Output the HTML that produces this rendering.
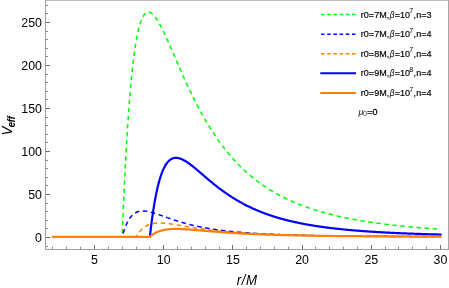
<!DOCTYPE html>
<html><head><meta charset="utf-8"><title>plot</title>
<style>
html,body{margin:0;padding:0;background:#fff;}
body{width:449px;height:288px;overflow:hidden;}
svg{display:block;font-family:"Liberation Sans",sans-serif;will-change:transform;}
</style></head><body>
<svg width="449" height="288" viewBox="0 0 449 288">
<rect width="449" height="288" fill="#fff"/>
<g fill="none">
<path d="M90.30,236.85 L122.18,236.85 L122.71,223.33 L123.24,210.48 L123.77,198.27 L124.31,186.67 L124.84,175.65 L125.37,165.19 L125.90,155.26 L126.43,145.84 L126.96,136.91 L127.49,128.44 L128.03,120.42 L128.56,112.83 L129.09,105.64 L129.62,98.85 L130.15,92.43 L130.68,86.36 L131.21,80.64 L131.75,75.24 L132.28,70.16 L132.81,65.37 L133.34,60.87 L133.87,56.64 L134.40,52.68 L134.93,48.96 L135.47,45.48 L136.00,42.23 L136.53,39.20 L137.06,36.38 L137.59,33.76 L138.12,31.33 L138.65,29.08 L139.19,27.01 L139.72,25.10 L140.25,23.35 L140.78,21.75 L141.31,20.30 L141.84,18.99 L142.37,17.81 L142.91,16.76 L143.44,15.83 L143.97,15.02 L144.50,14.31 L145.03,13.71 L145.56,13.22 L146.09,12.81 L146.63,12.50 L147.16,12.28 L147.69,12.14 L148.22,12.07 L148.75,12.09 L149.28,12.17 L149.81,12.33 L150.35,12.55 L150.88,12.83 L151.41,13.17 L151.94,13.57 L152.47,14.02 L153.00,14.52 L153.53,15.07 L154.07,15.66 L154.60,16.30 L155.13,16.98 L155.66,17.69 L156.19,18.45 L156.72,19.24 L157.25,20.06 L157.79,20.91 L158.32,21.80 L158.85,22.71 L159.38,23.64 L159.91,24.61 L160.44,25.59 L160.97,26.60 L161.51,27.62 L162.04,28.67 L162.57,29.73 L163.10,30.81 L163.63,31.91 L164.16,33.02 L164.69,34.14 L165.22,35.28 L165.76,36.43 L166.29,37.58 L166.82,38.75 L167.35,39.93 L167.88,41.11 L168.41,42.30 L168.94,43.50 L169.48,44.70 L170.01,45.91 L170.54,47.12 L171.07,48.34 L171.60,49.56 L172.13,50.78 L172.66,52.01 L173.20,53.23 L173.73,54.46 L174.26,55.69 L174.79,56.92 L175.32,58.15 L175.85,59.38 L176.38,60.60 L176.92,61.83 L177.45,63.05 L177.98,64.27 L178.51,65.49 L179.04,66.71 L179.57,67.92 L180.10,69.13 L180.64,70.34 L181.17,71.54 L181.70,72.74 L182.23,73.94 L182.76,75.13 L183.29,76.32 L183.82,77.50 L184.36,78.67 L184.89,79.84 L185.42,81.01 L185.95,82.17 L186.48,83.33 L187.01,84.48 L187.54,85.62 L188.08,86.76 L188.61,87.89 L189.14,89.01 L189.67,90.13 L190.20,91.25 L190.73,92.35 L191.26,93.45 L191.80,94.55 L192.33,95.63 L192.86,96.71 L193.39,97.79 L193.92,98.85 L194.45,99.91 L194.98,100.96 L195.52,102.01 L196.05,103.05 L196.58,104.08 L197.11,105.11 L197.64,106.12 L198.17,107.13 L198.70,108.14 L199.24,109.13 L199.77,110.12 L200.30,111.11 L200.83,112.08 L201.36,113.05 L201.89,114.01 L202.42,114.96 L202.96,115.91 L203.49,116.85 L204.02,117.78 L204.55,118.71 L205.08,119.63 L205.61,120.54 L206.14,121.44 L206.68,122.34 L207.21,123.23 L207.74,124.12 L208.27,124.99 L208.80,125.86 L209.33,126.73 L209.86,127.58 L210.40,128.43 L210.93,129.27 L211.46,130.11 L211.99,130.94 L212.52,131.76 L213.05,132.58 L213.58,133.39 L214.12,134.19 L214.65,134.99 L215.18,135.78 L215.71,136.56 L216.24,137.34 L216.77,138.11 L217.30,138.87 L217.84,139.63 L218.37,140.38 L218.90,141.12 L219.43,141.86 L219.96,142.60 L220.49,143.32 L221.02,144.04 L221.56,144.76 L222.09,145.47 L222.62,146.17 L223.15,146.87 L223.68,147.56 L224.21,148.24 L224.74,148.92 L225.28,149.60 L225.81,150.26 L226.34,150.93 L226.87,151.58 L227.40,152.23 L227.93,152.88 L228.46,153.52 L229.00,154.15 L229.53,154.78 L230.06,155.41 L230.59,156.03 L231.12,156.64 L231.65,157.25 L232.18,157.85 L232.72,158.45 L233.25,159.04 L233.78,159.63 L234.31,160.21 L234.84,160.79 L235.37,161.36 L235.90,161.93 L236.44,162.49 L236.97,163.05 L237.50,163.60 L238.03,164.15 L238.56,164.70 L239.09,165.23 L239.62,165.77 L240.16,166.30 L240.69,166.82 L241.22,167.35 L241.75,167.86 L242.28,168.37 L242.81,168.88 L243.34,169.39 L243.87,169.88 L244.41,170.38 L244.94,170.87 L245.47,171.36 L246.00,171.84 L246.53,172.32 L247.06,172.79 L247.59,173.26 L248.13,173.73 L248.66,174.19 L249.19,174.65 L249.72,175.10 L250.25,175.55 L250.78,176.00 L251.31,176.44 L251.85,176.88 L252.38,177.32 L252.91,177.75 L253.44,178.18 L253.97,178.60 L254.50,179.02 L255.03,179.44 L255.57,179.85 L256.10,180.26 L256.63,180.67 L257.16,181.07 L257.69,181.47 L258.22,181.87 L258.75,182.26 L259.29,182.65 L259.82,183.04 L260.35,183.42 L260.88,183.80 L261.41,184.18 L261.94,184.55 L262.47,184.92 L263.01,185.29 L263.54,185.66 L264.07,186.02 L264.60,186.38 L265.13,186.73 L265.66,187.08 L266.19,187.43 L266.73,187.78 L267.26,188.12 L267.79,188.46 L268.32,188.80 L268.85,189.14 L269.38,189.47 L269.91,189.80 L270.45,190.13 L270.98,190.45 L271.51,190.77 L272.04,191.09 L272.57,191.41 L273.10,191.72 L273.63,192.03 L274.17,192.34 L274.70,192.65 L275.23,192.95 L275.76,193.25 L276.29,193.55 L276.82,193.84 L277.35,194.14 L277.89,194.43 L278.42,194.72 L278.95,195.01 L279.48,195.29 L280.01,195.57 L280.54,195.85 L281.07,196.13 L281.61,196.40 L282.14,196.68 L282.67,196.95 L283.20,197.22 L283.73,197.48 L284.26,197.75 L284.79,198.01 L285.33,198.27 L285.86,198.53 L286.39,198.78 L286.92,199.03 L287.45,199.29 L287.98,199.54 L288.51,199.78 L289.05,200.03 L289.58,200.27 L290.11,200.51 L290.64,200.75 L291.17,200.99 L291.70,201.23 L292.23,201.46 L292.77,201.69 L293.30,201.93 L293.83,202.15 L294.36,202.38 L294.89,202.61 L295.42,202.83 L295.95,203.05 L296.49,203.27 L297.02,203.49 L297.55,203.70 L298.08,203.92 L298.61,204.13 L299.14,204.34 L299.67,204.55 L300.21,204.76 L300.74,204.97 L301.27,205.17 L301.80,205.38 L302.33,205.58 L302.86,205.78 L303.39,205.98 L303.93,206.17 L304.46,206.37 L304.99,206.56 L305.52,206.75 L306.05,206.94 L306.58,207.13 L307.11,207.32 L307.65,207.51 L308.18,207.69 L308.71,207.88 L309.24,208.06 L309.77,208.24 L310.30,208.42 L310.83,208.60 L311.37,208.78 L311.90,208.95 L312.43,209.12 L312.96,209.30 L313.49,209.47 L314.02,209.64 L314.55,209.81 L315.09,209.98 L315.62,210.14 L316.15,210.31 L316.68,210.47 L317.21,210.63 L317.74,210.80 L318.27,210.96 L318.81,211.11 L319.34,211.27 L319.87,211.43 L320.40,211.58 L320.93,211.74 L321.46,211.89 L321.99,212.04 L322.52,212.19 L323.06,212.34 L323.59,212.49 L324.12,212.64 L324.65,212.79 L325.18,212.93 L325.71,213.08 L326.24,213.22 L326.78,213.36 L327.31,213.50 L327.84,213.64 L328.37,213.78 L328.90,213.92 L329.43,214.06 L329.96,214.19 L330.50,214.33 L331.03,214.46 L331.56,214.60 L332.09,214.73 L332.62,214.86 L333.15,214.99 L333.68,215.12 L334.22,215.25 L334.75,215.37 L335.28,215.50 L335.81,215.63 L336.34,215.75 L336.87,215.88 L337.40,216.00 L337.94,216.12 L338.47,216.24 L339.00,216.36 L339.53,216.48 L340.06,216.60 L340.59,216.72 L341.12,216.83 L341.66,216.95 L342.19,217.07 L342.72,217.18 L343.25,217.29 L343.78,217.41 L344.31,217.52 L344.84,217.63 L345.38,217.74 L345.91,217.85 L346.44,217.96 L346.97,218.07 L347.50,218.17 L348.03,218.28 L348.56,218.39 L349.10,218.49 L349.63,218.60 L350.16,218.70 L350.69,218.80 L351.22,218.90 L351.75,219.01 L352.28,219.11 L352.82,219.21 L353.35,219.31 L353.88,219.41 L354.41,219.50 L354.94,219.60 L355.47,219.70 L356.00,219.79 L356.54,219.89 L357.07,219.98 L357.60,220.08 L358.13,220.17 L358.66,220.26 L359.19,220.36 L359.72,220.45 L360.26,220.54 L360.79,220.63 L361.32,220.72 L361.85,220.81 L362.38,220.90 L362.91,220.98 L363.44,221.07 L363.98,221.16 L364.51,221.24 L365.04,221.33 L365.57,221.41 L366.10,221.50 L366.63,221.58 L367.16,221.67 L367.70,221.75 L368.23,221.83 L368.76,221.91 L369.29,221.99 L369.82,222.07 L370.35,222.15 L370.88,222.23 L371.42,222.31 L371.95,222.39 L372.48,222.47 L373.01,222.54 L373.54,222.62 L374.07,222.70 L374.60,222.77 L375.14,222.85 L375.67,222.92 L376.20,223.00 L376.73,223.07 L377.26,223.15 L377.79,223.22 L378.32,223.29 L378.86,223.36 L379.39,223.43 L379.92,223.50 L380.45,223.58 L380.98,223.65 L381.51,223.71 L382.04,223.78 L382.58,223.85 L383.11,223.92 L383.64,223.99 L384.17,224.06 L384.70,224.12 L385.23,224.19 L385.76,224.26 L386.30,224.32 L386.83,224.39 L387.36,224.45 L387.89,224.52 L388.42,224.58 L388.95,224.64 L389.48,224.71 L390.02,224.77 L390.55,224.83 L391.08,224.89 L391.61,224.96 L392.14,225.02 L392.67,225.08 L393.20,225.14 L393.74,225.20 L394.27,225.26 L394.80,225.32 L395.33,225.38 L395.86,225.43 L396.39,225.49 L396.92,225.55 L397.46,225.61 L397.99,225.66 L398.52,225.72 L399.05,225.78 L399.58,225.83 L400.11,225.89 L400.64,225.94 L401.17,226.00 L401.71,226.05 L402.24,226.11 L402.77,226.16 L403.30,226.22 L403.83,226.27 L404.36,226.32 L404.89,226.37 L405.43,226.43 L405.96,226.48 L406.49,226.53 L407.02,226.58 L407.55,226.63 L408.08,226.68 L408.61,226.73 L409.15,226.78 L409.68,226.83 L410.21,226.88 L410.74,226.93 L411.27,226.98 L411.80,227.03 L412.33,227.08 L412.87,227.13 L413.40,227.17 L413.93,227.22 L414.46,227.27 L414.99,227.31 L415.52,227.36 L416.05,227.41 L416.59,227.45 L417.12,227.50 L417.65,227.54 L418.18,227.59 L418.71,227.63 L419.24,227.68 L419.77,227.72 L420.31,227.77 L420.84,227.81 L421.37,227.86 L421.90,227.90 L422.43,227.94 L422.96,227.98 L423.49,228.03 L424.03,228.07 L424.56,228.11 L425.09,228.15 L425.62,228.19 L426.15,228.24 L426.68,228.28 L427.21,228.32 L427.75,228.36 L428.28,228.40 L428.81,228.44 L429.34,228.48 L429.87,228.52 L430.40,228.56 L430.93,228.60 L431.47,228.64 L432.00,228.67 L432.53,228.71 L433.06,228.75 L433.59,228.79 L434.12,228.83 L434.65,228.86 L435.19,228.90 L435.72,228.94 L436.25,228.98 L436.78,229.01 L437.31,229.05 L437.84,229.09 L438.37,229.12 L438.91,229.16 L439.44,229.19 L439.97,229.23 L440.50,229.26" fill="none" stroke="#00ff00" stroke-width="1.5" stroke-dasharray="4.5 3.58" stroke-dashoffset="5.00" stroke-linejoin="round"/>
<path d="M90.30,236.85 L122.18,236.85 L122.71,234.93 L123.24,233.12 L123.77,231.43 L124.31,229.84 L124.84,228.34 L125.37,226.94 L125.90,225.63 L126.43,224.40 L126.96,223.24 L127.49,222.17 L128.03,221.16 L128.56,220.23 L129.09,219.35 L129.62,218.54 L130.15,217.79 L130.68,217.09 L131.21,216.44 L131.75,215.84 L132.28,215.28 L132.81,214.77 L133.34,214.31 L133.87,213.88 L134.40,213.49 L134.93,213.13 L135.47,212.81 L136.00,212.52 L136.53,212.26 L137.06,212.02 L137.59,211.82 L138.12,211.64 L138.65,211.48 L139.19,211.35 L139.72,211.24 L140.25,211.14 L140.78,211.07 L141.31,211.02 L141.84,210.98 L142.37,210.96 L142.91,210.95 L143.44,210.96 L143.97,210.98 L144.50,211.01 L145.03,211.06 L145.56,211.11 L146.09,211.18 L146.63,211.26 L147.16,211.34 L147.69,211.44 L148.22,211.54 L148.75,211.65 L149.28,211.77 L149.81,211.89 L150.35,212.02 L150.88,212.16 L151.41,212.30 L151.94,212.45 L152.47,212.60 L153.00,212.75 L153.53,212.91 L154.07,213.08 L154.60,213.24 L155.13,213.41 L155.66,213.58 L156.19,213.76 L156.72,213.93 L157.25,214.11 L157.79,214.29 L158.32,214.47 L158.85,214.66 L159.38,214.84 L159.91,215.03 L160.44,215.21 L160.97,215.40 L161.51,215.59 L162.04,215.78 L162.57,215.97 L163.10,216.16 L163.63,216.35 L164.16,216.53 L164.69,216.72 L165.22,216.91 L165.76,217.10 L166.29,217.29 L166.82,217.48 L167.35,217.66 L167.88,217.85 L168.41,218.04 L168.94,218.22 L169.48,218.41 L170.01,218.59 L170.54,218.77 L171.07,218.95 L171.60,219.13 L172.13,219.31 L172.66,219.49 L173.20,219.67 L173.73,219.84 L174.26,220.02 L174.79,220.19 L175.32,220.36 L175.85,220.54 L176.38,220.70 L176.92,220.87 L177.45,221.04 L177.98,221.21 L178.51,221.37 L179.04,221.53 L179.57,221.70 L180.10,221.86 L180.64,222.01 L181.17,222.17 L181.70,222.33 L182.23,222.48 L182.76,222.64 L183.29,222.79 L183.82,222.94 L184.36,223.09 L184.89,223.23 L185.42,223.38 L185.95,223.52 L186.48,223.67 L187.01,223.81 L187.54,223.95 L188.08,224.09 L188.61,224.23 L189.14,224.36 L189.67,224.50 L190.20,224.63 L190.73,224.76 L191.26,224.89 L191.80,225.02 L192.33,225.15 L192.86,225.27 L193.39,225.40 L193.92,225.52 L194.45,225.65 L194.98,225.77 L195.52,225.89 L196.05,226.00 L196.58,226.12 L197.11,226.24 L197.64,226.35 L198.17,226.47 L198.70,226.58 L199.24,226.69 L199.77,226.80 L200.30,226.91 L200.83,227.01 L201.36,227.12 L201.89,227.22 L202.42,227.33 L202.96,227.43 L203.49,227.53 L204.02,227.63 L204.55,227.73 L205.08,227.83 L205.61,227.92 L206.14,228.02 L206.68,228.11 L207.21,228.21 L207.74,228.30 L208.27,228.39 L208.80,228.48 L209.33,228.57 L209.86,228.66 L210.40,228.74 L210.93,228.83 L211.46,228.91 L211.99,229.00 L212.52,229.08 L213.05,229.16 L213.58,229.24 L214.12,229.33 L214.65,229.40 L215.18,229.48 L215.71,229.56 L216.24,229.64 L216.77,229.71 L217.30,229.79 L217.84,229.86 L218.37,229.93 L218.90,230.01 L219.43,230.08 L219.96,230.15 L220.49,230.22 L221.02,230.29 L221.56,230.36 L222.09,230.42 L222.62,230.49 L223.15,230.56 L223.68,230.62 L224.21,230.68 L224.74,230.75 L225.28,230.81 L225.81,230.87 L226.34,230.93 L226.87,231.00 L227.40,231.06 L227.93,231.11 L228.46,231.17 L229.00,231.23 L229.53,231.29 L230.06,231.35 L230.59,231.40 L231.12,231.46 L231.65,231.51 L232.18,231.57 L232.72,231.62 L233.25,231.67 L233.78,231.72 L234.31,231.78 L234.84,231.83 L235.37,231.88 L235.90,231.93 L236.44,231.98 L236.97,232.02 L237.50,232.07 L238.03,232.12 L238.56,232.17 L239.09,232.21 L239.62,232.26 L240.16,232.31 L240.69,232.35 L241.22,232.39 L241.75,232.44 L242.28,232.48 L242.81,232.53 L243.34,232.57 L243.87,232.61 L244.41,232.65 L244.94,232.69 L245.47,232.73 L246.00,232.77 L246.53,232.81 L247.06,232.85 L247.59,232.89 L248.13,232.93 L248.66,232.97 L249.19,233.00 L249.72,233.04 L250.25,233.08 L250.78,233.12 L251.31,233.15 L251.85,233.19 L252.38,233.22 L252.91,233.26 L253.44,233.29 L253.97,233.32 L254.50,233.36 L255.03,233.39 L255.57,233.42 L256.10,233.46 L256.63,233.49 L257.16,233.52 L257.69,233.55 L258.22,233.58 L258.75,233.61 L259.29,233.64 L259.82,233.67 L260.35,233.70 L260.88,233.73 L261.41,233.76 L261.94,233.79 L262.47,233.82 L263.01,233.85 L263.54,233.88 L264.07,233.90 L264.60,233.93 L265.13,233.96 L265.66,233.98 L266.19,234.01 L266.73,234.04 L267.26,234.06 L267.79,234.09 L268.32,234.11 L268.85,234.14 L269.38,234.16 L269.91,234.19 L270.45,234.21 L270.98,234.24 L271.51,234.26 L272.04,234.28 L272.57,234.31 L273.10,234.33 L273.63,234.35 L274.17,234.37 L274.70,234.40 L275.23,234.42 L275.76,234.44 L276.29,234.46 L276.82,234.48 L277.35,234.50 L277.89,234.53 L278.42,234.55 L278.95,234.57 L279.48,234.59 L280.01,234.61 L280.54,234.63 L281.07,234.65 L281.61,234.67 L282.14,234.69 L282.67,234.70 L283.20,234.72 L283.73,234.74 L284.26,234.76 L284.79,234.78 L285.33,234.80 L285.86,234.81 L286.39,234.83 L286.92,234.85 L287.45,234.87 L287.98,234.88 L288.51,234.90 L289.05,234.92 L289.58,234.93 L290.11,234.95 L290.64,234.97 L291.17,234.98 L291.70,235.00 L292.23,235.02 L292.77,235.03 L293.30,235.05 L293.83,235.06 L294.36,235.08 L294.89,235.09 L295.42,235.11 L295.95,235.12 L296.49,235.14 L297.02,235.15 L297.55,235.17 L298.08,235.18 L298.61,235.19 L299.14,235.21 L299.67,235.22 L300.21,235.23 L300.74,235.25 L301.27,235.26 L301.80,235.27 L302.33,235.29 L302.86,235.30 L303.39,235.31 L303.93,235.33 L304.46,235.34 L304.99,235.35 L305.52,235.36 L306.05,235.38 L306.58,235.39 L307.11,235.40 L307.65,235.41 L308.18,235.42 L308.71,235.44 L309.24,235.45 L309.77,235.46 L310.30,235.47 L310.83,235.48 L311.37,235.49 L311.90,235.50 L312.43,235.51 L312.96,235.52 L313.49,235.54 L314.02,235.55 L314.55,235.56 L315.09,235.57 L315.62,235.58 L316.15,235.59 L316.68,235.60 L317.21,235.61 L317.74,235.62 L318.27,235.63 L318.81,235.64 L319.34,235.65 L319.87,235.66 L320.40,235.67 L320.93,235.67 L321.46,235.68 L321.99,235.69 L322.52,235.70 L323.06,235.71 L323.59,235.72 L324.12,235.73 L324.65,235.74 L325.18,235.75 L325.71,235.75 L326.24,235.76 L326.78,235.77 L327.31,235.78 L327.84,235.79 L328.37,235.80 L328.90,235.80 L329.43,235.81 L329.96,235.82 L330.50,235.83 L331.03,235.84 L331.56,235.84 L332.09,235.85 L332.62,235.86 L333.15,235.87 L333.68,235.87 L334.22,235.88 L334.75,235.89 L335.28,235.90 L335.81,235.90 L336.34,235.91 L336.87,235.92 L337.40,235.93 L337.94,235.93 L338.47,235.94 L339.00,235.95 L339.53,235.95 L340.06,235.96 L340.59,235.97 L341.12,235.97 L341.66,235.98 L342.19,235.99 L342.72,235.99 L343.25,236.00 L343.78,236.01 L344.31,236.01 L344.84,236.02 L345.38,236.02 L345.91,236.03 L346.44,236.04 L346.97,236.04 L347.50,236.05 L348.03,236.05 L348.56,236.06 L349.10,236.07 L349.63,236.07 L350.16,236.08 L350.69,236.08 L351.22,236.09 L351.75,236.09 L352.28,236.10 L352.82,236.10 L353.35,236.11 L353.88,236.12 L354.41,236.12 L354.94,236.13 L355.47,236.13 L356.00,236.14 L356.54,236.14 L357.07,236.15 L357.60,236.15 L358.13,236.16 L358.66,236.16 L359.19,236.17 L359.72,236.17 L360.26,236.18 L360.79,236.18 L361.32,236.19 L361.85,236.19 L362.38,236.19 L362.91,236.20 L363.44,236.20 L363.98,236.21 L364.51,236.21 L365.04,236.22 L365.57,236.22 L366.10,236.23 L366.63,236.23 L367.16,236.24 L367.70,236.24 L368.23,236.24 L368.76,236.25 L369.29,236.25 L369.82,236.26 L370.35,236.26 L370.88,236.26 L371.42,236.27 L371.95,236.27 L372.48,236.28 L373.01,236.28 L373.54,236.28 L374.07,236.29 L374.60,236.29 L375.14,236.30 L375.67,236.30 L376.20,236.30 L376.73,236.31 L377.26,236.31 L377.79,236.31 L378.32,236.32 L378.86,236.32 L379.39,236.33 L379.92,236.33 L380.45,236.33 L380.98,236.34 L381.51,236.34 L382.04,236.34 L382.58,236.35 L383.11,236.35 L383.64,236.35 L384.17,236.36 L384.70,236.36 L385.23,236.36 L385.76,236.37 L386.30,236.37 L386.83,236.37 L387.36,236.38 L387.89,236.38 L388.42,236.38 L388.95,236.39 L389.48,236.39 L390.02,236.39 L390.55,236.39 L391.08,236.40 L391.61,236.40 L392.14,236.40 L392.67,236.41 L393.20,236.41 L393.74,236.41 L394.27,236.42 L394.80,236.42 L395.33,236.42 L395.86,236.42 L396.39,236.43 L396.92,236.43 L397.46,236.43 L397.99,236.43 L398.52,236.44 L399.05,236.44 L399.58,236.44 L400.11,236.45 L400.64,236.45 L401.17,236.45 L401.71,236.45 L402.24,236.46 L402.77,236.46 L403.30,236.46 L403.83,236.46 L404.36,236.47 L404.89,236.47 L405.43,236.47 L405.96,236.47 L406.49,236.48 L407.02,236.48 L407.55,236.48 L408.08,236.48 L408.61,236.48 L409.15,236.49 L409.68,236.49 L410.21,236.49 L410.74,236.49 L411.27,236.50 L411.80,236.50 L412.33,236.50 L412.87,236.50 L413.40,236.50 L413.93,236.51 L414.46,236.51 L414.99,236.51 L415.52,236.51 L416.05,236.52 L416.59,236.52 L417.12,236.52 L417.65,236.52 L418.18,236.52 L418.71,236.53 L419.24,236.53 L419.77,236.53 L420.31,236.53 L420.84,236.53 L421.37,236.54 L421.90,236.54 L422.43,236.54 L422.96,236.54 L423.49,236.54 L424.03,236.55 L424.56,236.55 L425.09,236.55 L425.62,236.55 L426.15,236.55 L426.68,236.55 L427.21,236.56 L427.75,236.56 L428.28,236.56 L428.81,236.56 L429.34,236.56 L429.87,236.56 L430.40,236.57 L430.93,236.57 L431.47,236.57 L432.00,236.57 L432.53,236.57 L433.06,236.58 L433.59,236.58 L434.12,236.58 L434.65,236.58 L435.19,236.58 L435.72,236.58 L436.25,236.58 L436.78,236.59 L437.31,236.59 L437.84,236.59 L438.37,236.59 L438.91,236.59 L439.44,236.59 L439.97,236.60 L440.50,236.60" fill="none" stroke="#0000ff" stroke-width="1.5" stroke-dasharray="4.5 3.58" stroke-dashoffset="5.00" stroke-linejoin="round"/>
<path d="M90.30,236.85 L136.02,236.85 L136.53,235.98 L137.04,235.15 L137.54,234.37 L138.05,233.62 L138.56,232.92 L139.07,232.25 L139.58,231.62 L140.09,231.02 L140.59,230.45 L141.10,229.92 L141.61,229.41 L142.12,228.93 L142.63,228.48 L143.14,228.06 L143.64,227.65 L144.15,227.28 L144.66,226.92 L145.17,226.59 L145.68,226.28 L146.19,225.98 L146.69,225.71 L147.20,225.45 L147.71,225.22 L148.22,224.99 L148.73,224.79 L149.24,224.59 L149.74,224.42 L150.25,224.25 L150.76,224.10 L151.27,223.96 L151.78,223.83 L152.29,223.72 L152.79,223.61 L153.30,223.52 L153.81,223.43 L154.32,223.36 L154.83,223.29 L155.34,223.23 L155.84,223.18 L156.35,223.14 L156.86,223.11 L157.37,223.08 L157.88,223.06 L158.39,223.04 L158.89,223.03 L159.40,223.03 L159.91,223.03 L160.42,223.04 L160.93,223.05 L161.44,223.07 L161.94,223.09 L162.45,223.12 L162.96,223.15 L163.47,223.18 L163.98,223.22 L164.49,223.26 L164.99,223.30 L165.50,223.35 L166.01,223.40 L166.52,223.45 L167.03,223.51 L167.54,223.56 L168.04,223.62 L168.55,223.68 L169.06,223.75 L169.57,223.81 L170.08,223.88 L170.59,223.95 L171.09,224.02 L171.60,224.09 L172.11,224.17 L172.62,224.24 L173.13,224.32 L173.64,224.40 L174.14,224.47 L174.65,224.55 L175.16,224.63 L175.67,224.71 L176.18,224.79 L176.69,224.88 L177.19,224.96 L177.70,225.04 L178.21,225.12 L178.72,225.21 L179.23,225.29 L179.73,225.38 L180.24,225.46 L180.75,225.55 L181.26,225.63 L181.77,225.72 L182.28,225.80 L182.78,225.89 L183.29,225.97 L183.80,226.06 L184.31,226.14 L184.82,226.23 L185.33,226.31 L185.83,226.40 L186.34,226.48 L186.85,226.57 L187.36,226.65 L187.87,226.73 L188.38,226.82 L188.88,226.90 L189.39,226.98 L189.90,227.07 L190.41,227.15 L190.92,227.23 L191.43,227.31 L191.93,227.39 L192.44,227.48 L192.95,227.56 L193.46,227.64 L193.97,227.72 L194.48,227.79 L194.98,227.87 L195.49,227.95 L196.00,228.03 L196.51,228.11 L197.02,228.18 L197.53,228.26 L198.03,228.34 L198.54,228.41 L199.05,228.49 L199.56,228.56 L200.07,228.63 L200.58,228.71 L201.08,228.78 L201.59,228.85 L202.10,228.92 L202.61,228.99 L203.12,229.07 L203.63,229.14 L204.13,229.20 L204.64,229.27 L205.15,229.34 L205.66,229.41 L206.17,229.48 L206.68,229.54 L207.18,229.61 L207.69,229.68 L208.20,229.74 L208.71,229.80 L209.22,229.87 L209.73,229.93 L210.23,230.00 L210.74,230.06 L211.25,230.12 L211.76,230.18 L212.27,230.24 L212.78,230.30 L213.28,230.36 L213.79,230.42 L214.30,230.48 L214.81,230.54 L215.32,230.59 L215.83,230.65 L216.33,230.71 L216.84,230.76 L217.35,230.82 L217.86,230.88 L218.37,230.93 L218.88,230.98 L219.38,231.04 L219.89,231.09 L220.40,231.14 L220.91,231.19 L221.42,231.25 L221.93,231.30 L222.43,231.35 L222.94,231.40 L223.45,231.45 L223.96,231.50 L224.47,231.55 L224.97,231.59 L225.48,231.64 L225.99,231.69 L226.50,231.74 L227.01,231.78 L227.52,231.83 L228.02,231.87 L228.53,231.92 L229.04,231.96 L229.55,232.01 L230.06,232.05 L230.57,232.09 L231.07,232.14 L231.58,232.18 L232.09,232.22 L232.60,232.26 L233.11,232.31 L233.62,232.35 L234.12,232.39 L234.63,232.43 L235.14,232.47 L235.65,232.51 L236.16,232.55 L236.67,232.58 L237.17,232.62 L237.68,232.66 L238.19,232.70 L238.70,232.73 L239.21,232.77 L239.72,232.81 L240.22,232.84 L240.73,232.88 L241.24,232.91 L241.75,232.95 L242.26,232.98 L242.77,233.02 L243.27,233.05 L243.78,233.09 L244.29,233.12 L244.80,233.15 L245.31,233.18 L245.82,233.22 L246.32,233.25 L246.83,233.28 L247.34,233.31 L247.85,233.34 L248.36,233.37 L248.87,233.40 L249.37,233.43 L249.88,233.46 L250.39,233.49 L250.90,233.52 L251.41,233.55 L251.92,233.58 L252.42,233.61 L252.93,233.64 L253.44,233.67 L253.95,233.69 L254.46,233.72 L254.97,233.75 L255.47,233.77 L255.98,233.80 L256.49,233.83 L257.00,233.85 L257.51,233.88 L258.02,233.91 L258.52,233.93 L259.03,233.96 L259.54,233.98 L260.05,234.00 L260.56,234.03 L261.07,234.05 L261.57,234.08 L262.08,234.10 L262.59,234.12 L263.10,234.15 L263.61,234.17 L264.12,234.19 L264.62,234.22 L265.13,234.24 L265.64,234.26 L266.15,234.28 L266.66,234.30 L267.16,234.32 L267.67,234.35 L268.18,234.37 L268.69,234.39 L269.20,234.41 L269.71,234.43 L270.21,234.45 L270.72,234.47 L271.23,234.49 L271.74,234.51 L272.25,234.53 L272.76,234.55 L273.26,234.57 L273.77,234.59 L274.28,234.60 L274.79,234.62 L275.30,234.64 L275.81,234.66 L276.31,234.68 L276.82,234.70 L277.33,234.71 L277.84,234.73 L278.35,234.75 L278.86,234.77 L279.36,234.78 L279.87,234.80 L280.38,234.82 L280.89,234.83 L281.40,234.85 L281.91,234.87 L282.41,234.88 L282.92,234.90 L283.43,234.91 L283.94,234.93 L284.45,234.94 L284.96,234.96 L285.46,234.97 L285.97,234.99 L286.48,235.00 L286.99,235.02 L287.50,235.03 L288.01,235.05 L288.51,235.06 L289.02,235.08 L289.53,235.09 L290.04,235.11 L290.55,235.12 L291.06,235.13 L291.56,235.15 L292.07,235.16 L292.58,235.17 L293.09,235.19 L293.60,235.20 L294.11,235.21 L294.61,235.23 L295.12,235.24 L295.63,235.25 L296.14,235.26 L296.65,235.28 L297.16,235.29 L297.66,235.30 L298.17,235.31 L298.68,235.32 L299.19,235.34 L299.70,235.35 L300.21,235.36 L300.71,235.37 L301.22,235.38 L301.73,235.39 L302.24,235.41 L302.75,235.42 L303.26,235.43 L303.76,235.44 L304.27,235.45 L304.78,235.46 L305.29,235.47 L305.80,235.48 L306.31,235.49 L306.81,235.50 L307.32,235.51 L307.83,235.52 L308.34,235.53 L308.85,235.54 L309.36,235.55 L309.86,235.56 L310.37,235.57 L310.88,235.58 L311.39,235.59 L311.90,235.60 L312.40,235.61 L312.91,235.62 L313.42,235.63 L313.93,235.64 L314.44,235.65 L314.95,235.66 L315.45,235.67 L315.96,235.67 L316.47,235.68 L316.98,235.69 L317.49,235.70 L318.00,235.71 L318.50,235.72 L319.01,235.73 L319.52,235.73 L320.03,235.74 L320.54,235.75 L321.05,235.76 L321.55,235.77 L322.06,235.77 L322.57,235.78 L323.08,235.79 L323.59,235.80 L324.10,235.81 L324.60,235.81 L325.11,235.82 L325.62,235.83 L326.13,235.84 L326.64,235.84 L327.15,235.85 L327.65,235.86 L328.16,235.86 L328.67,235.87 L329.18,235.88 L329.69,235.89 L330.20,235.89 L330.70,235.90 L331.21,235.91 L331.72,235.91 L332.23,235.92 L332.74,235.93 L333.25,235.93 L333.75,235.94 L334.26,235.95 L334.77,235.95 L335.28,235.96 L335.79,235.97 L336.30,235.97 L336.80,235.98 L337.31,235.98 L337.82,235.99 L338.33,236.00 L338.84,236.00 L339.35,236.01 L339.85,236.01 L340.36,236.02 L340.87,236.03 L341.38,236.03 L341.89,236.04 L342.40,236.04 L342.90,236.05 L343.41,236.05 L343.92,236.06 L344.43,236.06 L344.94,236.07 L345.45,236.08 L345.95,236.08 L346.46,236.09 L346.97,236.09 L347.48,236.10 L347.99,236.10 L348.50,236.11 L349.00,236.11 L349.51,236.12 L350.02,236.12 L350.53,236.13 L351.04,236.13 L351.55,236.14 L352.05,236.14 L352.56,236.15 L353.07,236.15 L353.58,236.16 L354.09,236.16 L354.59,236.17 L355.10,236.17 L355.61,236.17 L356.12,236.18 L356.63,236.18 L357.14,236.19 L357.64,236.19 L358.15,236.20 L358.66,236.20 L359.17,236.21 L359.68,236.21 L360.19,236.21 L360.69,236.22 L361.20,236.22 L361.71,236.23 L362.22,236.23 L362.73,236.24 L363.24,236.24 L363.74,236.24 L364.25,236.25 L364.76,236.25 L365.27,236.26 L365.78,236.26 L366.29,236.26 L366.79,236.27 L367.30,236.27 L367.81,236.27 L368.32,236.28 L368.83,236.28 L369.34,236.29 L369.84,236.29 L370.35,236.29 L370.86,236.30 L371.37,236.30 L371.88,236.30 L372.39,236.31 L372.89,236.31 L373.40,236.31 L373.91,236.32 L374.42,236.32 L374.93,236.33 L375.44,236.33 L375.94,236.33 L376.45,236.34 L376.96,236.34 L377.47,236.34 L377.98,236.34 L378.49,236.35 L378.99,236.35 L379.50,236.35 L380.01,236.36 L380.52,236.36 L381.03,236.36 L381.54,236.37 L382.04,236.37 L382.55,236.37 L383.06,236.38 L383.57,236.38 L384.08,236.38 L384.59,236.39 L385.09,236.39 L385.60,236.39 L386.11,236.39 L386.62,236.40 L387.13,236.40 L387.64,236.40 L388.14,236.41 L388.65,236.41 L389.16,236.41 L389.67,236.41 L390.18,236.42 L390.69,236.42 L391.19,236.42 L391.70,236.42 L392.21,236.43 L392.72,236.43 L393.23,236.43 L393.74,236.43 L394.24,236.44 L394.75,236.44 L395.26,236.44 L395.77,236.44 L396.28,236.45 L396.79,236.45 L397.29,236.45 L397.80,236.45 L398.31,236.46 L398.82,236.46 L399.33,236.46 L399.83,236.46 L400.34,236.47 L400.85,236.47 L401.36,236.47 L401.87,236.47 L402.38,236.48 L402.88,236.48 L403.39,236.48 L403.90,236.48 L404.41,236.48 L404.92,236.49 L405.43,236.49 L405.93,236.49 L406.44,236.49 L406.95,236.50 L407.46,236.50 L407.97,236.50 L408.48,236.50 L408.98,236.50 L409.49,236.51 L410.00,236.51 L410.51,236.51 L411.02,236.51 L411.53,236.51 L412.03,236.52 L412.54,236.52 L413.05,236.52 L413.56,236.52 L414.07,236.52 L414.58,236.53 L415.08,236.53 L415.59,236.53 L416.10,236.53 L416.61,236.53 L417.12,236.54 L417.63,236.54 L418.13,236.54 L418.64,236.54 L419.15,236.54 L419.66,236.54 L420.17,236.55 L420.68,236.55 L421.18,236.55 L421.69,236.55 L422.20,236.55 L422.71,236.55 L423.22,236.56 L423.73,236.56 L424.23,236.56 L424.74,236.56 L425.25,236.56 L425.76,236.56 L426.27,236.57 L426.78,236.57 L427.28,236.57 L427.79,236.57 L428.30,236.57 L428.81,236.57 L429.32,236.58 L429.83,236.58 L430.33,236.58 L430.84,236.58 L431.35,236.58 L431.86,236.58 L432.37,236.59 L432.88,236.59 L433.38,236.59 L433.89,236.59 L434.40,236.59 L434.91,236.59 L435.42,236.59 L435.93,236.60 L436.43,236.60 L436.94,236.60 L437.45,236.60 L437.96,236.60 L438.47,236.60 L438.98,236.60 L439.48,236.61 L439.99,236.61 L440.50,236.61" fill="none" stroke="#ff8000" stroke-width="1.5" stroke-dasharray="4.5 3.58" stroke-dashoffset="5.00" stroke-linejoin="round"/>
<path d="M90.30,236.85 L149.86,236.85" fill="none" stroke="#0000ff" stroke-width="1.8"/>
<path d="M149.86,236.85 L150.35,232.57 L150.83,228.48 L151.32,224.57 L151.80,220.84 L152.29,217.27 L152.77,213.85 L153.26,210.60 L153.74,207.49 L154.23,204.52 L154.71,201.69 L155.20,199.00 L155.68,196.43 L156.17,193.98 L156.65,191.65 L157.14,189.43 L157.62,187.32 L158.11,185.32 L158.59,183.41 L159.08,181.60 L159.56,179.89 L160.05,178.27 L160.53,176.73 L161.02,175.27 L161.51,173.89 L161.99,172.60 L162.48,171.37 L162.96,170.21 L163.45,169.13 L163.93,168.11 L164.42,167.15 L164.90,166.25 L165.39,165.41 L165.87,164.63 L166.36,163.89 L166.84,163.22 L167.33,162.59 L167.81,162.01 L168.30,161.47 L168.78,160.98 L169.27,160.53 L169.75,160.12 L170.24,159.75 L170.72,159.42 L171.21,159.12 L171.69,158.86 L172.18,158.63 L172.66,158.43 L173.15,158.27 L173.64,158.13 L174.12,158.02 L174.61,157.94 L175.09,157.88 L175.58,157.85 L176.06,157.84 L176.55,157.85 L177.03,157.89 L177.52,157.94 L178.00,158.02 L178.49,158.12 L178.97,158.23 L179.46,158.36 L179.94,158.51 L180.43,158.67 L180.91,158.85 L181.40,159.04 L181.88,159.25 L182.37,159.47 L182.85,159.70 L183.34,159.94 L183.82,160.20 L184.31,160.46 L184.80,160.74 L185.28,161.03 L185.77,161.32 L186.25,161.62 L186.74,161.94 L187.22,162.26 L187.71,162.59 L188.19,162.92 L188.68,163.26 L189.16,163.61 L189.65,163.96 L190.13,164.32 L190.62,164.69 L191.10,165.06 L191.59,165.43 L192.07,165.81 L192.56,166.19 L193.04,166.58 L193.53,166.97 L194.01,167.36 L194.50,167.76 L194.98,168.16 L195.47,168.56 L195.95,168.96 L196.44,169.37 L196.93,169.77 L197.41,170.18 L197.90,170.59 L198.38,171.00 L198.87,171.42 L199.35,171.83 L199.84,172.25 L200.32,172.66 L200.81,173.08 L201.29,173.49 L201.78,173.91 L202.26,174.33 L202.75,174.74 L203.23,175.16 L203.72,175.57 L204.20,175.99 L204.69,176.40 L205.17,176.82 L205.66,177.23 L206.14,177.65 L206.63,178.06 L207.11,178.47 L207.60,178.88 L208.09,179.29 L208.57,179.70 L209.06,180.10 L209.54,180.51 L210.03,180.91 L210.51,181.32 L211.00,181.72 L211.48,182.12 L211.97,182.52 L212.45,182.91 L212.94,183.31 L213.42,183.70 L213.91,184.09 L214.39,184.48 L214.88,184.87 L215.36,185.25 L215.85,185.64 L216.33,186.02 L216.82,186.40 L217.30,186.78 L217.79,187.15 L218.27,187.53 L218.76,187.90 L219.24,188.27 L219.73,188.63 L220.22,189.00 L220.70,189.36 L221.19,189.72 L221.67,190.08 L222.16,190.44 L222.64,190.79 L223.13,191.14 L223.61,191.49 L224.10,191.84 L224.58,192.19 L225.07,192.53 L225.55,192.87 L226.04,193.21 L226.52,193.55 L227.01,193.88 L227.49,194.21 L227.98,194.54 L228.46,194.87 L228.95,195.19 L229.43,195.51 L229.92,195.83 L230.40,196.15 L230.89,196.47 L231.38,196.78 L231.86,197.09 L232.35,197.40 L232.83,197.71 L233.32,198.01 L233.80,198.31 L234.29,198.61 L234.77,198.91 L235.26,199.21 L235.74,199.50 L236.23,199.79 L236.71,200.08 L237.20,200.37 L237.68,200.65 L238.17,200.93 L238.65,201.21 L239.14,201.49 L239.62,201.77 L240.11,202.04 L240.59,202.31 L241.08,202.58 L241.56,202.85 L242.05,203.11 L242.53,203.38 L243.02,203.64 L243.51,203.90 L243.99,204.15 L244.48,204.41 L244.96,204.66 L245.45,204.91 L245.93,205.16 L246.42,205.41 L246.90,205.65 L247.39,205.89 L247.87,206.14 L248.36,206.37 L248.84,206.61 L249.33,206.85 L249.81,207.08 L250.30,207.31 L250.78,207.54 L251.27,207.77 L251.75,207.99 L252.24,208.22 L252.72,208.44 L253.21,208.66 L253.69,208.88 L254.18,209.09 L254.67,209.31 L255.15,209.52 L255.64,209.73 L256.12,209.94 L256.61,210.15 L257.09,210.35 L257.58,210.56 L258.06,210.76 L258.55,210.96 L259.03,211.16 L259.52,211.36 L260.00,211.55 L260.49,211.75 L260.97,211.94 L261.46,212.13 L261.94,212.32 L262.43,212.51 L262.91,212.70 L263.40,212.88 L263.88,213.06 L264.37,213.25 L264.85,213.43 L265.34,213.60 L265.82,213.78 L266.31,213.96 L266.80,214.13 L267.28,214.30 L267.77,214.48 L268.25,214.65 L268.74,214.81 L269.22,214.98 L269.71,215.15 L270.19,215.31 L270.68,215.47 L271.16,215.63 L271.65,215.79 L272.13,215.95 L272.62,216.11 L273.10,216.27 L273.59,216.42 L274.07,216.58 L274.56,216.73 L275.04,216.88 L275.53,217.03 L276.01,217.18 L276.50,217.32 L276.98,217.47 L277.47,217.62 L277.96,217.76 L278.44,217.90 L278.93,218.04 L279.41,218.18 L279.90,218.32 L280.38,218.46 L280.87,218.60 L281.35,218.73 L281.84,218.87 L282.32,219.00 L282.81,219.13 L283.29,219.26 L283.78,219.39 L284.26,219.52 L284.75,219.65 L285.23,219.77 L285.72,219.90 L286.20,220.02 L286.69,220.15 L287.17,220.27 L287.66,220.39 L288.14,220.51 L288.63,220.63 L289.11,220.75 L289.60,220.87 L290.09,220.98 L290.57,221.10 L291.06,221.21 L291.54,221.33 L292.03,221.44 L292.51,221.55 L293.00,221.66 L293.48,221.77 L293.97,221.88 L294.45,221.99 L294.94,222.10 L295.42,222.20 L295.91,222.31 L296.39,222.41 L296.88,222.52 L297.36,222.62 L297.85,222.72 L298.33,222.82 L298.82,222.92 L299.30,223.02 L299.79,223.12 L300.27,223.22 L300.76,223.32 L301.25,223.41 L301.73,223.51 L302.22,223.60 L302.70,223.70 L303.19,223.79 L303.67,223.88 L304.16,223.98 L304.64,224.07 L305.13,224.16 L305.61,224.25 L306.10,224.34 L306.58,224.42 L307.07,224.51 L307.55,224.60 L308.04,224.68 L308.52,224.77 L309.01,224.85 L309.49,224.94 L309.98,225.02 L310.46,225.10 L310.95,225.18 L311.43,225.27 L311.92,225.35 L312.40,225.43 L312.89,225.51 L313.38,225.58 L313.86,225.66 L314.35,225.74 L314.83,225.82 L315.32,225.89 L315.80,225.97 L316.29,226.04 L316.77,226.12 L317.26,226.19 L317.74,226.26 L318.23,226.34 L318.71,226.41 L319.20,226.48 L319.68,226.55 L320.17,226.62 L320.65,226.69 L321.14,226.76 L321.62,226.83 L322.11,226.90 L322.59,226.97 L323.08,227.03 L323.56,227.10 L324.05,227.16 L324.54,227.23 L325.02,227.30 L325.51,227.36 L325.99,227.42 L326.48,227.49 L326.96,227.55 L327.45,227.61 L327.93,227.67 L328.42,227.74 L328.90,227.80 L329.39,227.86 L329.87,227.92 L330.36,227.98 L330.84,228.04 L331.33,228.10 L331.81,228.15 L332.30,228.21 L332.78,228.27 L333.27,228.33 L333.75,228.38 L334.24,228.44 L334.72,228.49 L335.21,228.55 L335.69,228.60 L336.18,228.66 L336.67,228.71 L337.15,228.76 L337.64,228.82 L338.12,228.87 L338.61,228.92 L339.09,228.97 L339.58,229.03 L340.06,229.08 L340.55,229.13 L341.03,229.18 L341.52,229.23 L342.00,229.28 L342.49,229.33 L342.97,229.38 L343.46,229.42 L343.94,229.47 L344.43,229.52 L344.91,229.57 L345.40,229.61 L345.88,229.66 L346.37,229.71 L346.85,229.75 L347.34,229.80 L347.83,229.84 L348.31,229.89 L348.80,229.93 L349.28,229.98 L349.77,230.02 L350.25,230.06 L350.74,230.11 L351.22,230.15 L351.71,230.19 L352.19,230.24 L352.68,230.28 L353.16,230.32 L353.65,230.36 L354.13,230.40 L354.62,230.44 L355.10,230.48 L355.59,230.52 L356.07,230.56 L356.56,230.60 L357.04,230.64 L357.53,230.68 L358.01,230.72 L358.50,230.76 L358.98,230.80 L359.47,230.83 L359.96,230.87 L360.44,230.91 L360.93,230.94 L361.41,230.98 L361.90,231.02 L362.38,231.05 L362.87,231.09 L363.35,231.13 L363.84,231.16 L364.32,231.20 L364.81,231.23 L365.29,231.27 L365.78,231.30 L366.26,231.33 L366.75,231.37 L367.23,231.40 L367.72,231.44 L368.20,231.47 L368.69,231.50 L369.17,231.53 L369.66,231.57 L370.14,231.60 L370.63,231.63 L371.12,231.66 L371.60,231.69 L372.09,231.73 L372.57,231.76 L373.06,231.79 L373.54,231.82 L374.03,231.85 L374.51,231.88 L375.00,231.91 L375.48,231.94 L375.97,231.97 L376.45,232.00 L376.94,232.03 L377.42,232.06 L377.91,232.08 L378.39,232.11 L378.88,232.14 L379.36,232.17 L379.85,232.20 L380.33,232.22 L380.82,232.25 L381.30,232.28 L381.79,232.31 L382.27,232.33 L382.76,232.36 L383.25,232.39 L383.73,232.41 L384.22,232.44 L384.70,232.47 L385.19,232.49 L385.67,232.52 L386.16,232.54 L386.64,232.57 L387.13,232.59 L387.61,232.62 L388.10,232.64 L388.58,232.67 L389.07,232.69 L389.55,232.72 L390.04,232.74 L390.52,232.76 L391.01,232.79 L391.49,232.81 L391.98,232.84 L392.46,232.86 L392.95,232.88 L393.43,232.90 L393.92,232.93 L394.41,232.95 L394.89,232.97 L395.38,233.00 L395.86,233.02 L396.35,233.04 L396.83,233.06 L397.32,233.08 L397.80,233.10 L398.29,233.13 L398.77,233.15 L399.26,233.17 L399.74,233.19 L400.23,233.21 L400.71,233.23 L401.20,233.25 L401.68,233.27 L402.17,233.29 L402.65,233.31 L403.14,233.33 L403.62,233.35 L404.11,233.37 L404.59,233.39 L405.08,233.41 L405.56,233.43 L406.05,233.45 L406.54,233.47 L407.02,233.49 L407.51,233.51 L407.99,233.53 L408.48,233.55 L408.96,233.56 L409.45,233.58 L409.93,233.60 L410.42,233.62 L410.90,233.64 L411.39,233.65 L411.87,233.67 L412.36,233.69 L412.84,233.71 L413.33,233.72 L413.81,233.74 L414.30,233.76 L414.78,233.78 L415.27,233.79 L415.75,233.81 L416.24,233.83 L416.72,233.84 L417.21,233.86 L417.70,233.88 L418.18,233.89 L418.67,233.91 L419.15,233.93 L419.64,233.94 L420.12,233.96 L420.61,233.97 L421.09,233.99 L421.58,234.00 L422.06,234.02 L422.55,234.04 L423.03,234.05 L423.52,234.07 L424.00,234.08 L424.49,234.10 L424.97,234.11 L425.46,234.13 L425.94,234.14 L426.43,234.16 L426.91,234.17 L427.40,234.18 L427.88,234.20 L428.37,234.21 L428.85,234.23 L429.34,234.24 L429.83,234.25 L430.31,234.27 L430.80,234.28 L431.28,234.30 L431.77,234.31 L432.25,234.32 L432.74,234.34 L433.22,234.35 L433.71,234.36 L434.19,234.38 L434.68,234.39 L435.16,234.40 L435.65,234.42 L436.13,234.43 L436.62,234.44 L437.10,234.45 L437.59,234.47 L438.07,234.48 L438.56,234.49 L439.04,234.50 L439.53,234.52 L440.01,234.53 L440.50,234.54" fill="none" stroke="#0000ff" stroke-width="2.2" stroke-linecap="square" stroke-linejoin="round"/>
<path d="M52.98,236.85 L149.86,236.85 L150.35,236.42 L150.83,236.01 L151.32,235.62 L151.80,235.25 L152.29,234.89 L152.77,234.55 L153.26,234.22 L153.74,233.91 L154.23,233.62 L154.71,233.33 L155.20,233.06 L155.68,232.81 L156.17,232.56 L156.65,232.33 L157.14,232.11 L157.62,231.90 L158.11,231.70 L158.59,231.51 L159.08,231.33 L159.56,231.15 L160.05,230.99 L160.53,230.84 L161.02,230.69 L161.51,230.55 L161.99,230.42 L162.48,230.30 L162.96,230.19 L163.45,230.08 L163.93,229.98 L164.42,229.88 L164.90,229.79 L165.39,229.71 L165.87,229.63 L166.36,229.55 L166.84,229.49 L167.33,229.42 L167.81,229.37 L168.30,229.31 L168.78,229.26 L169.27,229.22 L169.75,229.18 L170.24,229.14 L170.72,229.11 L171.21,229.08 L171.69,229.05 L172.18,229.03 L172.66,229.01 L173.15,228.99 L173.64,228.98 L174.12,228.97 L174.61,228.96 L175.09,228.95 L175.58,228.95 L176.06,228.95 L176.55,228.95 L177.03,228.95 L177.52,228.96 L178.00,228.97 L178.49,228.98 L178.97,228.99 L179.46,229.00 L179.94,229.02 L180.43,229.03 L180.91,229.05 L181.40,229.07 L181.88,229.09 L182.37,229.11 L182.85,229.13 L183.34,229.16 L183.82,229.18 L184.31,229.21 L184.80,229.24 L185.28,229.27 L185.77,229.30 L186.25,229.33 L186.74,229.36 L187.22,229.39 L187.71,229.42 L188.19,229.46 L188.68,229.49 L189.16,229.53 L189.65,229.56 L190.13,229.60 L190.62,229.63 L191.10,229.67 L191.59,229.71 L192.07,229.75 L192.56,229.78 L193.04,229.82 L193.53,229.86 L194.01,229.90 L194.50,229.94 L194.98,229.98 L195.47,230.02 L195.95,230.06 L196.44,230.10 L196.93,230.14 L197.41,230.18 L197.90,230.22 L198.38,230.27 L198.87,230.31 L199.35,230.35 L199.84,230.39 L200.32,230.43 L200.81,230.47 L201.29,230.51 L201.78,230.56 L202.26,230.60 L202.75,230.64 L203.23,230.68 L203.72,230.72 L204.20,230.76 L204.69,230.81 L205.17,230.85 L205.66,230.89 L206.14,230.93 L206.63,230.97 L207.11,231.01 L207.60,231.05 L208.09,231.09 L208.57,231.13 L209.06,231.18 L209.54,231.22 L210.03,231.26 L210.51,231.30 L211.00,231.34 L211.48,231.38 L211.97,231.42 L212.45,231.46 L212.94,231.50 L213.42,231.53 L213.91,231.57 L214.39,231.61 L214.88,231.65 L215.36,231.69 L215.85,231.73 L216.33,231.77 L216.82,231.80 L217.30,231.84 L217.79,231.88 L218.27,231.92 L218.76,231.95 L219.24,231.99 L219.73,232.03 L220.22,232.06 L220.70,232.10 L221.19,232.14 L221.67,232.17 L222.16,232.21 L222.64,232.24 L223.13,232.28 L223.61,232.31 L224.10,232.35 L224.58,232.38 L225.07,232.42 L225.55,232.45 L226.04,232.49 L226.52,232.52 L227.01,232.55 L227.49,232.59 L227.98,232.62 L228.46,232.65 L228.95,232.68 L229.43,232.72 L229.92,232.75 L230.40,232.78 L230.89,232.81 L231.38,232.84 L231.86,232.87 L232.35,232.91 L232.83,232.94 L233.32,232.97 L233.80,233.00 L234.29,233.03 L234.77,233.06 L235.26,233.09 L235.74,233.12 L236.23,233.14 L236.71,233.17 L237.20,233.20 L237.68,233.23 L238.17,233.26 L238.65,233.29 L239.14,233.31 L239.62,233.34 L240.11,233.37 L240.59,233.40 L241.08,233.42 L241.56,233.45 L242.05,233.48 L242.53,233.50 L243.02,233.53 L243.51,233.55 L243.99,233.58 L244.48,233.61 L244.96,233.63 L245.45,233.66 L245.93,233.68 L246.42,233.71 L246.90,233.73 L247.39,233.75 L247.87,233.78 L248.36,233.80 L248.84,233.83 L249.33,233.85 L249.81,233.87 L250.30,233.90 L250.78,233.92 L251.27,233.94 L251.75,233.96 L252.24,233.99 L252.72,234.01 L253.21,234.03 L253.69,234.05 L254.18,234.07 L254.67,234.10 L255.15,234.12 L255.64,234.14 L256.12,234.16 L256.61,234.18 L257.09,234.20 L257.58,234.22 L258.06,234.24 L258.55,234.26 L259.03,234.28 L259.52,234.30 L260.00,234.32 L260.49,234.34 L260.97,234.36 L261.46,234.38 L261.94,234.40 L262.43,234.42 L262.91,234.43 L263.40,234.45 L263.88,234.47 L264.37,234.49 L264.85,234.51 L265.34,234.53 L265.82,234.54 L266.31,234.56 L266.80,234.58 L267.28,234.60 L267.77,234.61 L268.25,234.63 L268.74,234.65 L269.22,234.66 L269.71,234.68 L270.19,234.70 L270.68,234.71 L271.16,234.73 L271.65,234.74 L272.13,234.76 L272.62,234.78 L273.10,234.79 L273.59,234.81 L274.07,234.82 L274.56,234.84 L275.04,234.85 L275.53,234.87 L276.01,234.88 L276.50,234.90 L276.98,234.91 L277.47,234.93 L277.96,234.94 L278.44,234.96 L278.93,234.97 L279.41,234.98 L279.90,235.00 L280.38,235.01 L280.87,235.02 L281.35,235.04 L281.84,235.05 L282.32,235.06 L282.81,235.08 L283.29,235.09 L283.78,235.10 L284.26,235.12 L284.75,235.13 L285.23,235.14 L285.72,235.15 L286.20,235.17 L286.69,235.18 L287.17,235.19 L287.66,235.20 L288.14,235.22 L288.63,235.23 L289.11,235.24 L289.60,235.25 L290.09,235.26 L290.57,235.27 L291.06,235.29 L291.54,235.30 L292.03,235.31 L292.51,235.32 L293.00,235.33 L293.48,235.34 L293.97,235.35 L294.45,235.36 L294.94,235.37 L295.42,235.39 L295.91,235.40 L296.39,235.41 L296.88,235.42 L297.36,235.43 L297.85,235.44 L298.33,235.45 L298.82,235.46 L299.30,235.47 L299.79,235.48 L300.27,235.49 L300.76,235.50 L301.25,235.51 L301.73,235.52 L302.22,235.53 L302.70,235.53 L303.19,235.54 L303.67,235.55 L304.16,235.56 L304.64,235.57 L305.13,235.58 L305.61,235.59 L306.10,235.60 L306.58,235.61 L307.07,235.62 L307.55,235.62 L308.04,235.63 L308.52,235.64 L309.01,235.65 L309.49,235.66 L309.98,235.67 L310.46,235.68 L310.95,235.68 L311.43,235.69 L311.92,235.70 L312.40,235.71 L312.89,235.72 L313.38,235.72 L313.86,235.73 L314.35,235.74 L314.83,235.75 L315.32,235.75 L315.80,235.76 L316.29,235.77 L316.77,235.78 L317.26,235.78 L317.74,235.79 L318.23,235.80 L318.71,235.81 L319.20,235.81 L319.68,235.82 L320.17,235.83 L320.65,235.83 L321.14,235.84 L321.62,235.85 L322.11,235.85 L322.59,235.86 L323.08,235.87 L323.56,235.87 L324.05,235.88 L324.54,235.89 L325.02,235.89 L325.51,235.90 L325.99,235.91 L326.48,235.91 L326.96,235.92 L327.45,235.93 L327.93,235.93 L328.42,235.94 L328.90,235.94 L329.39,235.95 L329.87,235.96 L330.36,235.96 L330.84,235.97 L331.33,235.97 L331.81,235.98 L332.30,235.99 L332.78,235.99 L333.27,236.00 L333.75,236.00 L334.24,236.01 L334.72,236.01 L335.21,236.02 L335.69,236.03 L336.18,236.03 L336.67,236.04 L337.15,236.04 L337.64,236.05 L338.12,236.05 L338.61,236.06 L339.09,236.06 L339.58,236.07 L340.06,236.07 L340.55,236.08 L341.03,236.08 L341.52,236.09 L342.00,236.09 L342.49,236.10 L342.97,236.10 L343.46,236.11 L343.94,236.11 L344.43,236.12 L344.91,236.12 L345.40,236.13 L345.88,236.13 L346.37,236.14 L346.85,236.14 L347.34,236.14 L347.83,236.15 L348.31,236.15 L348.80,236.16 L349.28,236.16 L349.77,236.17 L350.25,236.17 L350.74,236.18 L351.22,236.18 L351.71,236.18 L352.19,236.19 L352.68,236.19 L353.16,236.20 L353.65,236.20 L354.13,236.21 L354.62,236.21 L355.10,236.21 L355.59,236.22 L356.07,236.22 L356.56,236.23 L357.04,236.23 L357.53,236.23 L358.01,236.24 L358.50,236.24 L358.98,236.24 L359.47,236.25 L359.96,236.25 L360.44,236.26 L360.93,236.26 L361.41,236.26 L361.90,236.27 L362.38,236.27 L362.87,236.27 L363.35,236.28 L363.84,236.28 L364.32,236.28 L364.81,236.29 L365.29,236.29 L365.78,236.30 L366.26,236.30 L366.75,236.30 L367.23,236.31 L367.72,236.31 L368.20,236.31 L368.69,236.32 L369.17,236.32 L369.66,236.32 L370.14,236.32 L370.63,236.33 L371.12,236.33 L371.60,236.33 L372.09,236.34 L372.57,236.34 L373.06,236.34 L373.54,236.35 L374.03,236.35 L374.51,236.35 L375.00,236.36 L375.48,236.36 L375.97,236.36 L376.45,236.36 L376.94,236.37 L377.42,236.37 L377.91,236.37 L378.39,236.38 L378.88,236.38 L379.36,236.38 L379.85,236.38 L380.33,236.39 L380.82,236.39 L381.30,236.39 L381.79,236.40 L382.27,236.40 L382.76,236.40 L383.25,236.40 L383.73,236.41 L384.22,236.41 L384.70,236.41 L385.19,236.41 L385.67,236.42 L386.16,236.42 L386.64,236.42 L387.13,236.42 L387.61,236.43 L388.10,236.43 L388.58,236.43 L389.07,236.43 L389.55,236.44 L390.04,236.44 L390.52,236.44 L391.01,236.44 L391.49,236.45 L391.98,236.45 L392.46,236.45 L392.95,236.45 L393.43,236.46 L393.92,236.46 L394.41,236.46 L394.89,236.46 L395.38,236.46 L395.86,236.47 L396.35,236.47 L396.83,236.47 L397.32,236.47 L397.80,236.48 L398.29,236.48 L398.77,236.48 L399.26,236.48 L399.74,236.48 L400.23,236.49 L400.71,236.49 L401.20,236.49 L401.68,236.49 L402.17,236.49 L402.65,236.50 L403.14,236.50 L403.62,236.50 L404.11,236.50 L404.59,236.50 L405.08,236.51 L405.56,236.51 L406.05,236.51 L406.54,236.51 L407.02,236.51 L407.51,236.52 L407.99,236.52 L408.48,236.52 L408.96,236.52 L409.45,236.52 L409.93,236.53 L410.42,236.53 L410.90,236.53 L411.39,236.53 L411.87,236.53 L412.36,236.53 L412.84,236.54 L413.33,236.54 L413.81,236.54 L414.30,236.54 L414.78,236.54 L415.27,236.54 L415.75,236.55 L416.24,236.55 L416.72,236.55 L417.21,236.55 L417.70,236.55 L418.18,236.55 L418.67,236.56 L419.15,236.56 L419.64,236.56 L420.12,236.56 L420.61,236.56 L421.09,236.56 L421.58,236.57 L422.06,236.57 L422.55,236.57 L423.03,236.57 L423.52,236.57 L424.00,236.57 L424.49,236.57 L424.97,236.58 L425.46,236.58 L425.94,236.58 L426.43,236.58 L426.91,236.58 L427.40,236.58 L427.88,236.58 L428.37,236.59 L428.85,236.59 L429.34,236.59 L429.83,236.59 L430.31,236.59 L430.80,236.59 L431.28,236.59 L431.77,236.60 L432.25,236.60 L432.74,236.60 L433.22,236.60 L433.71,236.60 L434.19,236.60 L434.68,236.60 L435.16,236.61 L435.65,236.61 L436.13,236.61 L436.62,236.61 L437.10,236.61 L437.59,236.61 L438.07,236.61 L438.56,236.61 L439.04,236.62 L439.53,236.62 L440.01,236.62 L440.50,236.62" fill="none" stroke="#ff8000" stroke-width="2.2" stroke-linecap="square" stroke-linejoin="round"/>
</g>
<g stroke="#a0a0a0" stroke-width="1" fill="none">
<line x1="45" y1="0.4" x2="449" y2="0.4" stroke="#b4b4b4"/>
<line x1="448.5" y1="0" x2="448.5" y2="250" stroke="#a6a6a6"/>
<line x1="45.5" y1="0" x2="45.5" y2="250"/>
<line x1="45" y1="249.5" x2="449" y2="249.5"/>
<g stroke-width="1" stroke="#707070">
<line x1="52.50" y1="249.50" x2="52.50" y2="246.70" stroke="#8c8c8c"/>
<line x1="66.50" y1="249.50" x2="66.50" y2="246.70" stroke="#8c8c8c"/>
<line x1="80.50" y1="249.50" x2="80.50" y2="246.70" stroke="#8c8c8c"/>
<line x1="94.50" y1="249.50" x2="94.50" y2="244.90"/>
<line x1="108.50" y1="249.50" x2="108.50" y2="246.70" stroke="#8c8c8c"/>
<line x1="122.50" y1="249.50" x2="122.50" y2="246.70" stroke="#8c8c8c"/>
<line x1="136.50" y1="249.50" x2="136.50" y2="246.70" stroke="#8c8c8c"/>
<line x1="149.50" y1="249.50" x2="149.50" y2="246.70" stroke="#8c8c8c"/>
<line x1="163.50" y1="249.50" x2="163.50" y2="244.90"/>
<line x1="177.50" y1="249.50" x2="177.50" y2="246.70" stroke="#8c8c8c"/>
<line x1="191.50" y1="249.50" x2="191.50" y2="246.70" stroke="#8c8c8c"/>
<line x1="205.50" y1="249.50" x2="205.50" y2="246.70" stroke="#8c8c8c"/>
<line x1="219.50" y1="249.50" x2="219.50" y2="246.70" stroke="#8c8c8c"/>
<line x1="232.50" y1="249.50" x2="232.50" y2="244.90"/>
<line x1="246.50" y1="249.50" x2="246.50" y2="246.70" stroke="#8c8c8c"/>
<line x1="260.50" y1="249.50" x2="260.50" y2="246.70" stroke="#8c8c8c"/>
<line x1="274.50" y1="249.50" x2="274.50" y2="246.70" stroke="#8c8c8c"/>
<line x1="288.50" y1="249.50" x2="288.50" y2="246.70" stroke="#8c8c8c"/>
<line x1="302.50" y1="249.50" x2="302.50" y2="244.90"/>
<line x1="315.50" y1="249.50" x2="315.50" y2="246.70" stroke="#8c8c8c"/>
<line x1="329.50" y1="249.50" x2="329.50" y2="246.70" stroke="#8c8c8c"/>
<line x1="343.50" y1="249.50" x2="343.50" y2="246.70" stroke="#8c8c8c"/>
<line x1="357.50" y1="249.50" x2="357.50" y2="246.70" stroke="#8c8c8c"/>
<line x1="371.50" y1="249.50" x2="371.50" y2="244.90"/>
<line x1="385.50" y1="249.50" x2="385.50" y2="246.70" stroke="#8c8c8c"/>
<line x1="398.50" y1="249.50" x2="398.50" y2="246.70" stroke="#8c8c8c"/>
<line x1="412.50" y1="249.50" x2="412.50" y2="246.70" stroke="#8c8c8c"/>
<line x1="426.50" y1="249.50" x2="426.50" y2="246.70" stroke="#8c8c8c"/>
<line x1="440.50" y1="249.50" x2="440.50" y2="244.90"/>
<line x1="45.50" y1="246.50" x2="48.00" y2="246.50" stroke="#8c8c8c"/>
<line x1="45.50" y1="237.50" x2="50.00" y2="237.50"/>
<line x1="45.50" y1="228.50" x2="48.00" y2="228.50" stroke="#8c8c8c"/>
<line x1="45.50" y1="220.50" x2="48.00" y2="220.50" stroke="#8c8c8c"/>
<line x1="45.50" y1="211.50" x2="48.00" y2="211.50" stroke="#8c8c8c"/>
<line x1="45.50" y1="203.50" x2="48.00" y2="203.50" stroke="#8c8c8c"/>
<line x1="45.50" y1="194.50" x2="50.00" y2="194.50"/>
<line x1="45.50" y1="185.50" x2="48.00" y2="185.50" stroke="#8c8c8c"/>
<line x1="45.50" y1="177.50" x2="48.00" y2="177.50" stroke="#8c8c8c"/>
<line x1="45.50" y1="168.50" x2="48.00" y2="168.50" stroke="#8c8c8c"/>
<line x1="45.50" y1="160.50" x2="48.00" y2="160.50" stroke="#8c8c8c"/>
<line x1="45.50" y1="151.50" x2="50.00" y2="151.50"/>
<line x1="45.50" y1="142.50" x2="48.00" y2="142.50" stroke="#8c8c8c"/>
<line x1="45.50" y1="134.50" x2="48.00" y2="134.50" stroke="#8c8c8c"/>
<line x1="45.50" y1="125.50" x2="48.00" y2="125.50" stroke="#8c8c8c"/>
<line x1="45.50" y1="117.50" x2="48.00" y2="117.50" stroke="#8c8c8c"/>
<line x1="45.50" y1="108.50" x2="50.00" y2="108.50"/>
<line x1="45.50" y1="99.50" x2="48.00" y2="99.50" stroke="#8c8c8c"/>
<line x1="45.50" y1="91.50" x2="48.00" y2="91.50" stroke="#8c8c8c"/>
<line x1="45.50" y1="82.50" x2="48.00" y2="82.50" stroke="#8c8c8c"/>
<line x1="45.50" y1="74.50" x2="48.00" y2="74.50" stroke="#8c8c8c"/>
<line x1="45.50" y1="65.50" x2="50.00" y2="65.50"/>
<line x1="45.50" y1="56.50" x2="48.00" y2="56.50" stroke="#8c8c8c"/>
<line x1="45.50" y1="48.50" x2="48.00" y2="48.50" stroke="#8c8c8c"/>
<line x1="45.50" y1="39.50" x2="48.00" y2="39.50" stroke="#8c8c8c"/>
<line x1="45.50" y1="31.50" x2="48.00" y2="31.50" stroke="#8c8c8c"/>
<line x1="45.50" y1="22.50" x2="50.00" y2="22.50"/>
<line x1="45.50" y1="13.50" x2="48.00" y2="13.50" stroke="#8c8c8c"/>
<line x1="45.50" y1="5.50" x2="48.00" y2="5.50" stroke="#8c8c8c"/>
</g>
</g>
<g font-size="12.4" fill="#000">
<text x="94.50" y="263.5" text-anchor="middle">5</text>
<text x="163.70" y="263.5" text-anchor="middle">10</text>
<text x="232.90" y="263.5" text-anchor="middle">15</text>
<text x="302.10" y="263.5" text-anchor="middle">20</text>
<text x="371.30" y="263.5" text-anchor="middle">25</text>
<text x="440.50" y="263.5" text-anchor="middle">30</text>
<text x="42" y="241.85" text-anchor="end">0</text>
<text x="42" y="198.87" text-anchor="end">50</text>
<text x="42" y="155.89" text-anchor="end">100</text>
<text x="42" y="112.91" text-anchor="end">150</text>
<text x="42" y="69.93" text-anchor="end">200</text>
<text x="42" y="26.95" text-anchor="end">250</text>
</g>
<g fill="#000">
<line x1="321" y1="14.60" x2="355.6" y2="14.60" stroke="#00ff00" stroke-width="1.5" stroke-dasharray="3.5 2.7"/>
<text x="360.7" y="17.50" font-size="9" letter-spacing="0.08" stroke="#000" stroke-width="0.18">r0=7M,<tspan font-style="italic" font-size="8.3" dx="0.3" stroke="none">β</tspan><tspan dx="0.1">=10</tspan><tspan dy="-4.4" dx="-0.95" font-size="7.2" stroke="none">7</tspan><tspan dy="4.4" dx="0.3">,n=3</tspan></text>
<line x1="321" y1="34.20" x2="355.6" y2="34.20" stroke="#0000ff" stroke-width="1.5" stroke-dasharray="3.5 2.7"/>
<text x="360.7" y="37.10" font-size="9" letter-spacing="0.08" stroke="#000" stroke-width="0.18">r0=7M,<tspan font-style="italic" font-size="8.3" dx="0.3" stroke="none">β</tspan><tspan dx="0.1">=10</tspan><tspan dy="-4.4" dx="-0.95" font-size="7.2" stroke="none">7</tspan><tspan dy="4.4" dx="0.3">,n=4</tspan></text>
<line x1="321" y1="53.70" x2="355.6" y2="53.70" stroke="#ff8000" stroke-width="1.5" stroke-dasharray="3.5 2.7"/>
<text x="360.7" y="56.60" font-size="9" letter-spacing="0.08" stroke="#000" stroke-width="0.18">r0=8M,<tspan font-style="italic" font-size="8.3" dx="0.3" stroke="none">β</tspan><tspan dx="0.1">=10</tspan><tspan dy="-4.4" dx="-0.95" font-size="7.2" stroke="none">7</tspan><tspan dy="4.4" dx="0.3">,n=4</tspan></text>
<line x1="320.3" y1="73.30" x2="356" y2="73.30" stroke="#0000ff" stroke-width="2"/>
<text x="360.7" y="76.20" font-size="9" letter-spacing="0.08" stroke="#000" stroke-width="0.18">r0=9M,<tspan font-style="italic" font-size="8.3" dx="0.3" stroke="none">β</tspan><tspan dx="0.1">=10</tspan><tspan dy="-4.4" dx="-0.95" font-size="7.2" stroke="none">8</tspan><tspan dy="4.4" dx="0.3">,n=4</tspan></text>
<line x1="320.3" y1="93.00" x2="356" y2="93.00" stroke="#ff8000" stroke-width="2"/>
<text x="360.7" y="95.90" font-size="9" letter-spacing="0.08" stroke="#000" stroke-width="0.18">r0=9M,<tspan font-style="italic" font-size="8.3" dx="0.3" stroke="none">β</tspan><tspan dx="0.1">=10</tspan><tspan dy="-4.4" dx="-0.95" font-size="7.2" stroke="none">7</tspan><tspan dy="4.4" dx="0.3">,n=4</tspan></text>
<text x="358.4" y="114.7" font-size="9"><tspan font-style="italic" fill="#222">μ</tspan><tspan dy="1.6" dx="-0.3" font-size="7.2" fill="#333">0</tspan><tspan dy="-1.6" dx="0.2" stroke="#000" stroke-width="0.3">=0</tspan></text>
</g>
<text transform="translate(247.2,284.7) scale(0.93,1)" font-size="14.3" letter-spacing="0.7" font-style="italic" text-anchor="middle" fill="#000">r/M</text>
<text transform="translate(12.2,135.4) rotate(-90) scale(0.93,1)" font-size="14.3" font-style="italic" fill="#000">V<tspan dy="2.9" dx="-0.8" font-size="10" font-weight="bold">eff</tspan></text>
</svg>
</body></html>
